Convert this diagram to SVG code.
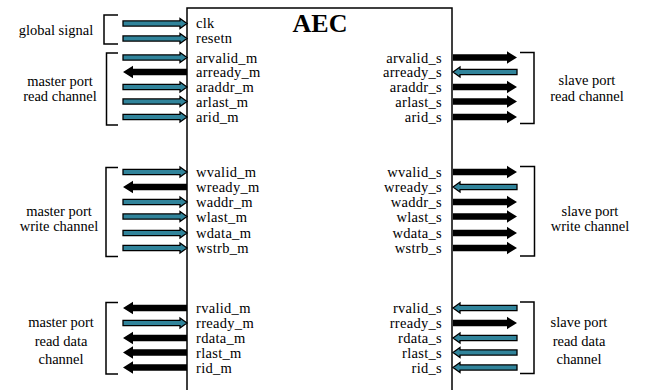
<svg xmlns="http://www.w3.org/2000/svg" xmlns:xlink="http://www.w3.org/1999/xlink" width="649" height="390" viewBox="0 0 649 390">
<style>
text{font-family:"Liberation Serif","DejaVu Serif","Times New Roman",serif;font-size:14.5px;letter-spacing:0.3px;fill:#000}
.r{text-anchor:end}
.c{text-anchor:middle;letter-spacing:0}
.title{font-weight:bold;font-size:26px;text-anchor:middle;letter-spacing:0}
.br{fill:none;stroke:#000;stroke-width:1.5}
</style>
<defs>
<path id="tA" d="M0,-2.6 H57 V-5 L64,0 L57,5 V2.6 H0 Z" fill="#31849B" stroke="#000" stroke-width="1.3" stroke-linejoin="miter"/>
<path id="bA" d="M0,-3.2 H54 V-6.2 L64,0 L54,6.2 V3.2 H0 Z" fill="#000"/>
</defs>
<rect width="649" height="390" fill="#fff"/>
<g id="aec">
<rect x="187" y="8" width="265" height="400" fill="#fff" stroke="#000" stroke-width="1.5"/>
<text class="title" x="320" y="32">AEC</text>
<text x="196" y="28">clk</text>
<text x="196" y="43">resetn</text>
<text x="196" y="62.5">arvalid_m</text>
<text x="196" y="77">arready_m</text>
<text x="196" y="92">araddr_m</text>
<text x="196" y="106.5">arlast_m</text>
<text x="196" y="122">arid_m</text>
<text x="196" y="177">wvalid_m</text>
<text x="196" y="192">wready_m</text>
<text x="196" y="207">waddr_m</text>
<text x="196" y="221.5">wlast_m</text>
<text x="196" y="238">wdata_m</text>
<text x="196" y="253">wstrb_m</text>
<text x="196" y="313">rvalid_m</text>
<text x="196" y="328">rready_m</text>
<text x="196" y="343">rdata_m</text>
<text x="196" y="357.5">rlast_m</text>
<text x="196" y="372.5">rid_m</text>
<text class="r" x="442" y="62.5">arvalid_s</text>
<text class="r" x="442" y="77">arready_s</text>
<text class="r" x="442" y="92">araddr_s</text>
<text class="r" x="442" y="106.5">arlast_s</text>
<text class="r" x="442" y="122">arid_s</text>
<text class="r" x="442" y="177">wvalid_s</text>
<text class="r" x="442" y="192">wready_s</text>
<text class="r" x="442" y="207">waddr_s</text>
<text class="r" x="442" y="221.5">wlast_s</text>
<text class="r" x="442" y="238">wdata_s</text>
<text class="r" x="442" y="253">wstrb_s</text>
<text class="r" x="442" y="313">rvalid_s</text>
<text class="r" x="442" y="328">rready_s</text>
<text class="r" x="442" y="343">rdata_s</text>
<text class="r" x="442" y="357.5">rlast_s</text>
<text class="r" x="442" y="372.5">rid_s</text>
</g>
<g id="global-signal">
<path class="br" d="M118,15 H104 V44 H118"/>
<text class="c" x="56" y="35">global signal</text>
</g>
<g id="master-read">
<path class="br" d="M118,53 H106.5 V125 H118"/>
<text class="c" x="60" y="86">master port</text>
<text class="c" x="60" y="101">read channel</text>
</g>
<g id="master-write">
<path class="br" d="M118,167.5 H106 V256.5 H118"/>
<text class="c" x="59" y="216">master port</text>
<text class="c" x="59" y="231">write channel</text>
</g>
<g id="master-read-data">
<path class="br" d="M118,302.5 H106 V374 H118"/>
<text class="c" x="61" y="327">master port</text>
<text class="c" x="61" y="345.5">read data</text>
<text class="c" x="61" y="364">channel</text>
</g>
<g id="slave-read">
<path class="br" d="M520,52.5 H534 V123.5 H520"/>
<text class="c" x="587" y="85">slave port</text>
<text class="c" x="587" y="101">read channel</text>
</g>
<g id="slave-write">
<path class="br" d="M520,166.5 H534.5 V256 H520"/>
<text class="c" x="590" y="216">slave port</text>
<text class="c" x="590" y="231">write channel</text>
</g>
<g id="slave-read-data">
<path class="br" d="M520,302 H534 V373.5 H520"/>
<text class="c" x="579" y="327">slave port</text>
<text class="c" x="579" y="345.5">read data</text>
<text class="c" x="579" y="364">channel</text>
</g>
<g id="connectors">
<use href="#tA" transform="translate(123,23.5)"/>
<use href="#tA" transform="translate(123,38.5)"/>
<use href="#tA" transform="translate(123,57.5)"/>
<use href="#bA" transform="translate(187,72) scale(-1,1)"/>
<use href="#tA" transform="translate(123,87)"/>
<use href="#tA" transform="translate(123,101.5)"/>
<use href="#tA" transform="translate(123,117)"/>
<use href="#tA" transform="translate(123,172)"/>
<use href="#bA" transform="translate(187,187) scale(-1,1)"/>
<use href="#tA" transform="translate(123,202)"/>
<use href="#tA" transform="translate(123,216.5)"/>
<use href="#tA" transform="translate(123,233)"/>
<use href="#tA" transform="translate(123,248)"/>
<use href="#bA" transform="translate(187,308) scale(-1,1)"/>
<use href="#tA" transform="translate(123,323)"/>
<use href="#bA" transform="translate(187,338) scale(-1,1)"/>
<use href="#bA" transform="translate(187,352.5) scale(-1,1)"/>
<use href="#bA" transform="translate(187,367.5) scale(-1,1)"/>
<use href="#bA" transform="translate(453,57.5)"/>
<use href="#tA" transform="translate(517,72) scale(-1,1)"/>
<use href="#bA" transform="translate(453,87)"/>
<use href="#bA" transform="translate(453,101.5)"/>
<use href="#bA" transform="translate(453,117)"/>
<use href="#bA" transform="translate(453,172)"/>
<use href="#tA" transform="translate(517,187) scale(-1,1)"/>
<use href="#bA" transform="translate(453,202)"/>
<use href="#bA" transform="translate(453,216.5)"/>
<use href="#bA" transform="translate(453,233)"/>
<use href="#bA" transform="translate(453,248)"/>
<use href="#tA" transform="translate(517,308) scale(-1,1)"/>
<use href="#bA" transform="translate(453,323)"/>
<use href="#tA" transform="translate(517,338) scale(-1,1)"/>
<use href="#tA" transform="translate(517,352.5) scale(-1,1)"/>
<use href="#tA" transform="translate(517,367.5) scale(-1,1)"/>
</g>
</svg>
